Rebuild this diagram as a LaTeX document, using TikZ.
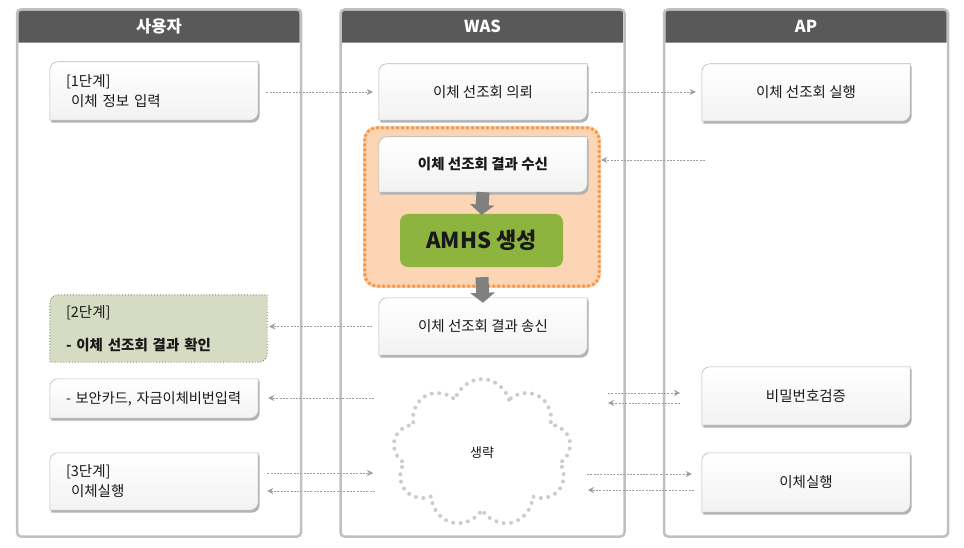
\documentclass[tikz,border=0pt]{standalone}
\usepackage{fontspec}
\setmainfont{Noto Sans CJK KR}
\usetikzlibrary{arrows.meta,shadows,shapes.symbols}
\pgfdeclarelayer{back}
\pgfdeclarelayer{bg}
\pgfsetlayers{back,bg,main}
\definecolor{lanegray}{RGB}{192,192,192}
\definecolor{headgray}{RGB}{89,89,89}
\definecolor{flowgray}{RGB}{128,128,128}
\definecolor{peach}{RGB}{252,213,181}
\definecolor{orangeb}{RGB}{247,150,70}
\definecolor{amhsgreen}{RGB}{141,180,62}
\definecolor{stepgreen}{RGB}{214,220,196}
\definecolor{stepgreenline}{RGB}{120,130,100}
\definecolor{txt}{RGB}{25,25,25}
\newcommand\tabshape[2]{\draw[#2] (#1.south west) [rounded corners=8pt] -- (#1.north west) [sharp corners] -- (#1.north east) [rounded corners=8pt] -- (#1.south east) [sharp corners] -- cycle;}
\newcommand\headshape[1]{\fill[headgray] (#1.south west) [rounded corners=3pt] -- (#1.north west) -- (#1.north east) [sharp corners] -- (#1.south east) -- cycle;}
\tikzset{
  lane/.style={draw=lanegray, line width=2.5pt, rounded corners=4pt, minimum width=284pt, minimum height=527pt, inner sep=0pt},
  head/.style={minimum width=281pt, minimum height=32pt, inner sep=0pt, text=white, font=\fontsize{16.5}{18}\selectfont\bfseries},
  box/.style={minimum width=208pt, minimum height=58pt, inner sep=0pt, font=\fontsize{14.5}{20}\selectfont, text=txt},
  lbox/.style={box, text width=176pt, inner xsep=16pt, align=left},
  tabstyle/.style={draw=gray!55, line width=0.6pt, top color=white, bottom color=gray!10, drop shadow={shadow xshift=1.5pt, shadow yshift=-2.5pt, fill=gray!60, opacity=1}},
  greenstyle/.style={draw=stepgreenline, line width=0.9pt, dotted, fill=stepgreen},
  flow/.style={draw=gray!75, line width=0.6pt, dash pattern=on 2pt off 1.3pt, -{Stealth[length=6pt,width=6pt,inset=2pt]}},
  thickflow/.style={draw=flowgray, line width=13pt, -{Triangle[length=10pt,width=24pt]}},
}
\begin{document}
\begin{tikzpicture}[x=1pt,y=-1pt]
\useasboundingbox (0,0) rectangle (964,548);
\begin{pgfonlayer}{back}
\fill[white] (0,0) rectangle (964,548);
\end{pgfonlayer}

% lanes
\node[lane] (L1) at (159,273) {};
\node[lane] (L2) at (482.5,273) {};
\node[lane] (L3) at (806,273) {};
\node[head] (H1) at (159,26.5) {사용자};
\node[head] (H2) at (482.5,26.5) {WAS};
\node[head] (H3) at (806,26.5) {AP};
\begin{pgfonlayer}{back}
\headshape{H1}\headshape{H2}\headshape{H3}
\end{pgfonlayer}

% orange group
\node[minimum width=234pt, minimum height=158pt, inner sep=0pt] (grp) at (482,207) {};
\begin{pgfonlayer}{back}
\draw[fill=peach, draw=orangeb!45, line width=3.5pt, rounded corners=12pt] (grp.north west) rectangle (grp.south east);
\draw[draw=orangeb, line width=3.8pt, dash pattern=on 0pt off 5pt, line cap=round, rounded corners=12pt] (grp.north west) rectangle (grp.south east);
\end{pgfonlayer}

% user lane boxes
\node[lbox] (s1) at (154,91) {[1단계]\\\hspace*{5pt}이체 정보 입력};
\node[lbox, minimum width=217pt, text width=185pt, minimum height=67pt] (s2) at (158.5,328.5) {[2단계]\\[13pt]\textbf{- 이체 선조회 결과 확인}};
\node[lbox, minimum height=39pt, font=\fontsize{14.2}{20}\selectfont] (sec) at (154,398.5) {\mbox{- 보안카드, 자금이체비번입력}};
\node[lbox, minimum height=57pt] (s3) at (154,481.5) {[3단계]\\\hspace*{5pt}이체실행};

% WAS lane boxes
\node[box, minimum height=56pt] (req) at (483,92) {이체 선조회 의뢰};
\node[box, minimum height=55pt, font=\fontsize{14.5}{20}\selectfont\bfseries] (recv) at (483,164.5) {이체 선조회 결과 수신};
\node[minimum width=163pt, minimum height=53pt, inner sep=0pt, fill=amhsgreen, rounded corners=8pt, text=txt, font=\fontsize{22}{26}\selectfont\bfseries] (amhs) at (481.5,240.5) {AMHS 생성};
\node[box, minimum height=57pt] (send) at (483,326.5) {이체 선조회 결과 송신};
\node[cloud, cloud puffs=9, aspect=1.2, minimum width=178pt, minimum height=148pt, draw=gray!40, line width=4pt, dash pattern=on 0pt off 7.5pt, line cap=round, font=\fontsize{13}{14}\selectfont, text=txt] (cloud) at (482,453) {생략};

% AP lane boxes
\node[box, minimum height=57pt] (run) at (806,92.5) {이체 선조회 실행};
\node[box, minimum height=58pt] (pw) at (806,396) {비밀번호검증};
\node[box, minimum height=59pt] (ex) at (806,482.5) {이체실행};

\begin{pgfonlayer}{bg}
\tabshape{s1}{tabstyle}
\tabshape{s2}{greenstyle}
\tabshape{sec}{tabstyle}
\tabshape{s3}{tabstyle}
\tabshape{req}{tabstyle}
\tabshape{recv}{tabstyle}
\tabshape{send}{tabstyle}
\tabshape{run}{tabstyle}
\tabshape{pw}{tabstyle}
\tabshape{ex}{tabstyle}
\end{pgfonlayer}

% free ends
\coordinate (apr) at (705,160);
\coordinate (csec) at (374,398);
\coordinate (pwA) at (608,393);
\coordinate (pwB) at (680,393);
\coordinate (pwC) at (680,403);
\coordinate (pwD) at (608,403);
\coordinate (cw1) at (373,473);
\coordinate (cw2) at (375,491);
\coordinate (ce1) at (587,474);
\coordinate (ce2) at (588,490);

% thin flows
\draw[flow, shorten <=8pt, shorten >=6pt] (s1.east |- req) -- (req.west);
\draw[flow, shorten <=4pt, shorten >=6pt] (req.east) -- (run.west |- req.east);
\draw[flow, shorten >=2pt] (apr) -- (grp.east |- apr);
\draw[flow, shorten <=7pt, shorten >=2pt] (send.west) -- (s2.east |- send.west);
\draw[flow, shorten >=10pt] (csec) -- (sec.east |- csec);
\draw[flow] (pwA) -- (pwB);
\draw[flow] (pwC) -- (pwD);
\draw[flow, shorten <=9pt] (s3.east |- cw1) -- (cw1);
\draw[flow, shorten >=9pt] (cw2) -- (s3.east |- cw2);
\draw[flow, shorten >=10pt] (ce1) -- (ex.west |- ce1);
\draw[flow, shorten <=8pt] (ex.west |- ce2) -- (ce2);

% thick flows
\draw[thickflow] (recv.south) -- ([yshift=-1pt]amhs.north);
\draw[thickflow] ([yshift=9pt]grp.south) -- ([yshift=-5pt]send.north);
\end{tikzpicture}
\end{document}
